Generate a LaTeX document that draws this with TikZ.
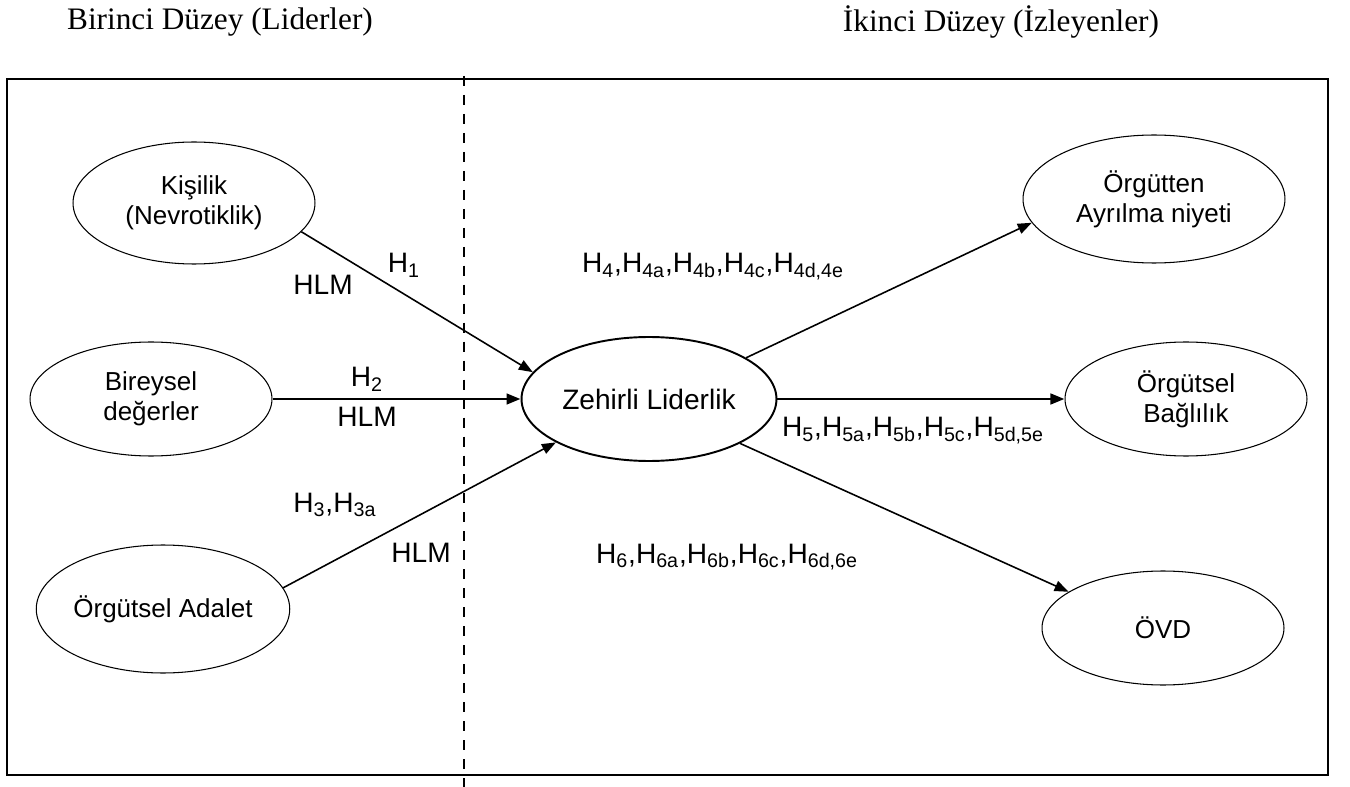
\documentclass[tikz,border=0pt]{standalone}
\usepackage{fontspec}
\setmainfont{Liberation Serif}
\setsansfont{Liberation Sans}
\usetikzlibrary{shapes,arrows.meta}

\tikzset{
  konu/.style={ellipse,draw,line width=0.6pt,inner sep=0pt,align=center,
    font=\sffamily\fontsize{14.8}{17}\selectfont},
  yol/.style={-{Triangle[length=8pt,width=6pt]},line width=0.9pt},
  kalinyol/.style={-{Triangle[length=8pt,width=6pt]},line width=1.6pt},
  etiket/.style={inner sep=0pt,font=\sffamily\fontsize{16}{19}\selectfont},
  baslik/.style={font=\fontsize{17.8}{21}\selectfont},
}

\begin{document}
\begin{tikzpicture}[x=0.02cm,y=-0.02cm]
\useasboundingbox (0,0) rectangle (1350,787);

% duzey basliklari
\node[baslik] (birinci) at (220,22) {Birinci Düzey (Liderler)};
\node[baslik] (ikinci) at (1001,22) {İkinci Düzey (İzleyenler)};

% cerceve ve iki duzey arasindaki kesik cizgi
\draw[line width=1.3pt] (7,79) rectangle (1328,775);
\draw[line width=1pt,dash pattern=on 5.7pt off 5.1pt] (464,76) -- (464,787);

% birinci duzey
\node[konu,minimum width=4.84cm,minimum height=2.44cm] (kisilik) at (194,203) {Kişilik\\(Nevrotiklik)};
\node[konu,minimum width=4.84cm,minimum height=2.28cm] (bireysel) at (151,399) {Bireysel\\değerler};
\node[konu,minimum width=4.84cm,minimum height=2.56cm] (adalet) at (163,609) {Örgütsel Adalet};

% zehirli liderlik
\node[konu,line width=1.1pt,minimum width=5.1cm,minimum height=2.48cm,
  font=\sffamily\fontsize{16}{19}\selectfont] (zehirli) at (649,399) {Zehirli Liderlik};

% ikinci duzey
\node[konu,minimum width=5.24cm,minimum height=2.56cm] (ayrilma) at (1154,199) {Örgütten\\Ayrılma niyeti};
\node[konu,minimum width=4.84cm,minimum height=2.28cm] (baglilik) at (1186,399) {Örgütsel\\Bağlılık};
\node[konu,minimum width=4.84cm,minimum height=2.28cm] (ovd) at (1163,628) {ÖVD};

% hipotezler
\node[etiket,anchor=base] (h1) at (404,273) {H\textsubscript{1}};
\node[etiket] (hlm1) at (323,285) {HLM};
\node[etiket,anchor=base] (h2) at (367,387) {H\textsubscript{2}};
\node[etiket] (hlm2) at (367,417) {HLM};
\node[etiket,anchor=base west] (h3) at (293,512) {H\textsubscript{3},H\textsubscript{3a}};
\node[etiket] (hlm3) at (421,553) {HLM};
\node[etiket,anchor=base] (h4) at (713,273)
  {H\textsubscript{4},H\textsubscript{4a},H\textsubscript{4b},H\textsubscript{4c},H\textsubscript{4d,4e}};
\node[etiket,anchor=base] (h5) at (913,437)
  {H\textsubscript{5},H\textsubscript{5a},H\textsubscript{5b},H\textsubscript{5c},H\textsubscript{5d,5e}};
\node[etiket,anchor=base] (h6) at (727,563)
  {H\textsubscript{6},H\textsubscript{6a},H\textsubscript{6b},H\textsubscript{6c},H\textsubscript{6d,6e}};

% oklar
\draw[yol] (kisilik.-15) -- (zehirli.167);
\draw[kalinyol] (bireysel) -- (zehirli);
\draw[yol] (adalet.10) -- (zehirli.-155);
\draw[yol] (zehirli.23) -- (ayrilma.191);
\draw[kalinyol] (zehirli) -- (baglilik);
\draw[yol] (zehirli.-26) -- (ovd.159);
\end{tikzpicture}
\end{document}
